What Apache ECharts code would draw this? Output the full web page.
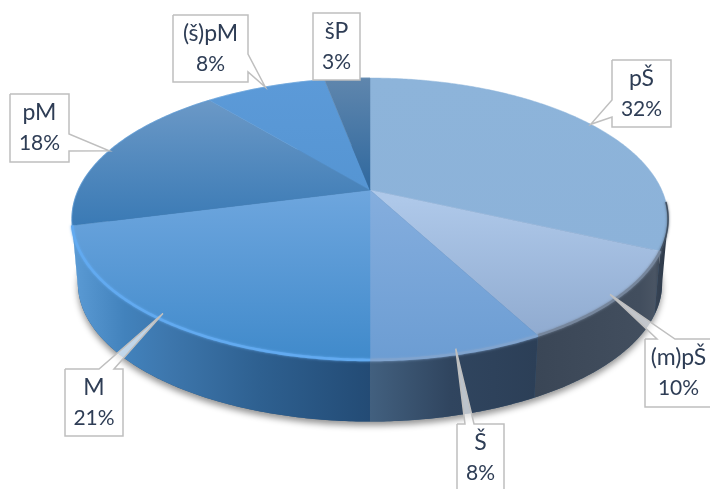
<!DOCTYPE html>
<html><head><meta charset="utf-8">
<style>html,body{margin:0;padding:0;background:#fff}#c{width:710px;height:489px}</style>
<script src="https://cdn.jsdelivr.net/npm/echarts@6/dist/echarts.min.js"></script>
</head><body><div id="c"></div>
<script>
// Data (clockwise from 12 o'clock)
const categories = ['pŠ','(m)pŠ','Š','M','pM','(š)pM','šP'];
const values = [31.8,10.4,7.8,21,18,8,3];

// Top-face vertical gradients [yStart, yEnd, colorStart, colorEnd]
const topStyles = [
  [78,260,'#8db4da','#8cb2d9'],
  [200,335,'#aec8e9','#90abd0'],
  [190,360,'#85aede','#6c9dd3'],
  [190,360,'#6ea6de','#408acb'],
  [90,225,'#6f9bc8','#3a7ab5'],
  [80,190,'#5c9ad8','#5595d3'],
  [78,190,'#5f86ad','#2f689e']
];
// Side-wall horizontal gradient stops per slice
const wallStyles = [
  [[650,'#3c4a5c'],[668,'#2b3645']],
  [[533,'#3a4656'],[640,'#424e5e'],[655,'#4a5564'],[665,'#2f3b4a']],
  [[370,'#42607f'],[450,'#30455f'],[537,'#2c3f57']],
  [[75,'#5a9ad4'],[125,'#4282bc'],[170,'#3d76ac'],[260,'#2e6090'],[370,'#234b75']],
  [[70,'#5a9ad4'],[80,'#5a9ad4']],
  [[70,'#5a9ad4'],[80,'#5a9ad4']],
  [[70,'#5a9ad4'],[80,'#5a9ad4']]
];
const rimStyles = ['#414f60','#76869c','#80a4cf','#62aaf0','#5a9ad6','#6aa5dc','#6a93b8'];
const textColor = '#2e3d55';
const edgeColor = '#bfbfbf';
// Callout boxes and pointer bases
const boxes = [
  {x:612,y:60,w:59,h:67,base:[[612,100],[612,117]]},
  {x:645,y:339,w:67,h:68,base:[[657,339],[675,339]]},
  {x:457,y:424,w:47,h:68,base:[[465,424],[474,424]]},
  {x:65,y:369,w:58,h:67,base:[[99,369],[114,369]]},
  {x:10,y:94,w:59,h:68,base:[[69,134],[69,151]]},
  {x:173,y:15,w:75,h:67,base:[[248,54],[248,72]]},
  {x:313,y:13,w:47,h:67,base:null}
];

// Perspective disc projection
const CX=370, AY=190, R=291.7, S=135, K=0.2057, DY=65, BS=0.98;
const total = values.reduce((a,b)=>a+b,0);
function project(t,bottom){
  const x=Math.sin(t), y=Math.cos(t), w=1+K*y;
  const s=bottom?BS:1;
  return [CX+s*R*x/w, AY+(bottom?DY:0)-s*S*y/w];
}
function range(i){
  let a=0; for(let j=0;j<i;j++) a+=values[j];
  return [a/total*2*Math.PI,(a+values[i])/total*2*Math.PI];
}
function arc(t0,t1,bottom){
  const n=Math.max(2,Math.ceil((t1-t0)/0.01)), out=[];
  for(let i=0;i<=n;i++) out.push(project(t0+(t1-t0)*i/n,bottom));
  return out;
}
const T_R=Math.acos(-K), T_L=2*Math.PI-T_R;
const seriesData = values.map((v,i)=>({name:categories[i],value:[i,v]}));

function vGrad(s){return {type:'linear',x:0,y:s[0],x2:0,y2:s[1],global:true,
  colorStops:[{offset:0,color:s[2]},{offset:1,color:s[3]}]};}
function hGrad(st){const a=st[0][0],b=st[st.length-1][0];
  return {type:'linear',x:a,y:0,x2:b,y2:0,global:true,
  colorStops:st.map(p=>({offset:(p[0]-a)/(b-a),color:p[1]}))};}

function renderShadow(p,api){
  return {type:'polygon',silent:true,shape:{points:arc(0,2*Math.PI,true)},
    style:{fill:'#3a5a7a',shadowColor:'rgba(0,0,0,0.42)',shadowBlur:6,shadowOffsetY:4,shadowOffsetX:0}};
}
function renderWall(p,api){
  const i=api.value(0), r=range(i);
  const a=Math.max(r[0],T_R), b=Math.min(r[1],T_L);
  if(b<=a) return null;
  const pts=arc(a,b,false).concat(arc(a,b,true).reverse());
  return {type:'polygon',silent:true,shape:{points:pts},style:{fill:hGrad(wallStyles[i])}};
}
function renderTop(p,api){
  const i=api.value(0), r=range(i);
  const pts=[[CX,AY]].concat(arc(r[0],r[1],false));
  const fill=vGrad(topStyles[i]);
  return {type:'polygon',silent:true,shape:{points:pts},style:{fill:fill,stroke:fill,lineWidth:0.5}};
}
function renderRim(p,api){
  const i=api.value(0), r=range(i);
  if(i>=4) return {type:'polyline',silent:true,shape:{points:arc(r[0],r[1],false)},
    style:{fill:null,stroke:rimStyles[i],lineWidth:1.2,opacity:0.6}};
  const pts = i===0 ? arc(T_R-0.12,r[1],false) : arc(r[0],r[1],false);
  return {type:'polyline',silent:true,shape:{points:pts},
    style:{fill:null,stroke:rimStyles[i],lineWidth:i===0?1.5:2.6,lineCap:'butt',shadowColor:rimStyles[i],shadowBlur:2.5}};
}
function renderLabel(p,api){
  const i=api.value(0), r=range(i), b=boxes[i];
  const mid=(r[0]+r[1])/2;
  const rim=project(mid,false);
  const inset=(mid>T_R&&mid<T_L)?0.97:1;
  const tip=[CX+(rim[0]-CX)*inset,AY+(rim[1]-AY)*inset];
  const children=[{type:'rect',shape:{x:b.x,y:b.y,width:b.w,height:b.h},style:{fill:'#fff'}}];
  if(b.base){
    children.push({type:'polygon',shape:{points:[b.base[0],tip,b.base[1]]},
      style:{fill:'rgba(255,255,255,0.68)',stroke:null}});
    const c=[[b.x,b.y],[b.x+b.w,b.y],[b.x+b.w,b.y+b.h],[b.x,b.y+b.h]];
    let out;
    if(b.base[0][1]===b.y) out=[c[0],b.base[0],tip,b.base[1],c[1],c[2],c[3],c[0]];
    else if(b.base[0][0]===b.x) out=[c[0],c[1],c[2],c[3],b.base[1],tip,b.base[0],c[0]];
    else out=[c[0],c[1],b.base[0],tip,b.base[1],c[2],c[3],c[0]];
    children.push({type:'polyline',shape:{points:out},style:{fill:null,stroke:edgeColor,lineWidth:1.5}});
  } else {
    children.push({type:'rect',shape:{x:b.x,y:b.y,width:b.w,height:b.h},style:{fill:null,stroke:edgeColor,lineWidth:1.5}});
  }
  const tx=b.x+b.w/2, ty=b.y+b.h/2;
  children.push({type:'text',style:{x:tx,y:ty-15,align:'center',verticalAlign:'middle',
    text:categories[i],fill:textColor,font:'23px Lato, "Open Sans", sans-serif'}});
  children.push({type:'text',style:{x:tx,y:ty+15.5,align:'center',verticalAlign:'middle',
    text:Math.round(values[i])+'%',fill:textColor,font:'21px Lato, "Open Sans", sans-serif'}});
  return {type:'group',children:children};
}
const mk=(fn,z,data)=>({type:'custom',coordinateSystem:'none',renderItem:fn,data:data||seriesData,z:z,silent:true,animation:false,clip:false});
const chart=echarts.init(document.getElementById('c'),null,{renderer:'canvas'});
chart.setOption({
  animation:false,backgroundColor:'#fff',
  series:[mk(renderShadow,1,seriesData.slice(0,1)),mk(renderWall,2),mk(renderTop,3),mk(renderRim,4),mk(renderLabel,5)]
});
</script></body></html>
